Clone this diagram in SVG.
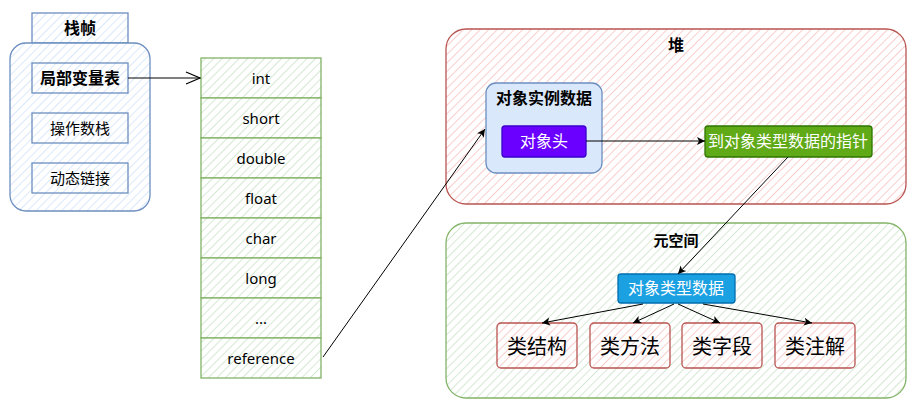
<svg xmlns="http://www.w3.org/2000/svg" width="920" height="412" viewBox="0 0 920 412">
<defs>
<pattern id="hb" width="6" height="6" patternUnits="userSpaceOnUse" patternTransform="rotate(45)"><rect width="6" height="6" fill="#ffffff"/><line x1="0" y1="0" x2="0" y2="6" stroke="#dae8fc" stroke-width="2"/></pattern>
<pattern id="hg" width="6" height="6" patternUnits="userSpaceOnUse" patternTransform="rotate(45)"><rect width="6" height="6" fill="#ffffff"/><line x1="0" y1="0" x2="0" y2="6" stroke="#d5e8d4" stroke-width="2"/></pattern>
<pattern id="hr" width="6" height="6" patternUnits="userSpaceOnUse" patternTransform="rotate(45)"><rect width="6" height="6" fill="#ffffff"/><line x1="0" y1="0" x2="0" y2="6" stroke="#f8cecc" stroke-width="2"/></pattern>
<marker id="ah" markerWidth="10" markerHeight="10" refX="9" refY="5" orient="auto" markerUnits="userSpaceOnUse"><path d="M1,1 L9,5 L1,9 L3,5 Z" fill="#000"/></marker>
<marker id="ao" markerWidth="16" markerHeight="14" refX="15" refY="7" orient="auto" markerUnits="userSpaceOnUse"><path d="M1,1 L15,7 L1,13" fill="none" stroke="#000" stroke-width="1.2"/></marker>
</defs>
<style>
text{font-family:"Noto Sans","Noto Sans CJK SC",sans-serif;text-anchor:middle;dominant-baseline:central;fill:#000}
.b{font-weight:bold}
.blue{fill:url(#hb);stroke:#6c8ebf;stroke-width:1.3}
.green{fill:url(#hg);stroke:#82b366;stroke-width:1.3}
.red{fill:url(#hr);stroke:#b85450;stroke-width:1.3}
.w{fill:#fff}
.c{fill:none;stroke:#000;stroke-width:1}
.t{font-size:15px}
</style>
<rect width="920" height="412" fill="#fff"/>

<g id="stack-frame">
<rect class="blue" x="32" y="13" width="96" height="30"/>
<text class="b" x="80" y="28" font-size="16">栈帧</text>
<rect class="blue" x="10" y="43" width="140" height="168" rx="16"/>
</g>
<g id="local-vars"><rect class="blue" x="32" y="63" width="96" height="30"/><text class="b" x="80" y="78" font-size="16">局部变量表</text></g>
<g id="operand-stack"><rect class="blue" x="32" y="113" width="96" height="30"/><text x="80" y="128" font-size="15">操作数栈</text></g>
<g id="dynamic-link"><rect class="blue" x="32" y="163" width="96" height="30"/><text x="80" y="178" font-size="15">动态链接</text></g>

<g id="table">
<rect class="green" x="201" y="58" width="120" height="40"/><text class="t" x="261" y="78">int</text>
<rect class="green" x="201" y="98" width="120" height="40"/><text class="t" x="261" y="118">short</text>
<rect class="green" x="201" y="138" width="120" height="40"/><text class="t" x="261" y="158">double</text>
<rect class="green" x="201" y="178" width="120" height="40"/><text class="t" x="261" y="198">float</text>
<rect class="green" x="201" y="218" width="120" height="40"/><text class="t" x="261" y="238">char</text>
<rect class="green" x="201" y="258" width="120" height="40"/><text class="t" x="261" y="278">long</text>
<rect class="green" x="201" y="298" width="120" height="40"/><text class="t" x="261" y="318">...</text>
<rect class="green" x="201" y="338" width="120" height="40"/><text class="t" x="261" y="358">reference</text>
</g>

<g id="heap"><rect class="red" x="446" y="29" width="460" height="175" rx="20"/><text class="b" x="676" y="45" font-size="16">堆</text></g>
<g id="object-instance"><rect x="486" y="83" width="116" height="90" rx="10" fill="#dae8fc" stroke="#6c8ebf" stroke-width="1.3"/><text class="b" x="544" y="98" font-size="16">对象实例数据</text></g>
<g id="object-header"><rect x="502" y="126" width="84" height="31" rx="3" fill="#6a00ff" stroke="#3700cc" stroke-width="1.3"/><text class="w" x="544" y="141" font-size="16">对象头</text></g>
<g id="type-pointer"><rect x="705" y="126" width="167" height="31" rx="3" fill="#60a917" stroke="#2d7600" stroke-width="1.3"/><text class="w" x="788" y="141" font-size="16">到对象类型数据的指针</text></g>

<g id="metaspace"><rect class="green" x="446" y="223" width="460" height="175" rx="20"/><text class="b" x="676" y="240" font-size="15">元空间</text></g>
<g id="type-data"><rect x="618" y="274" width="117" height="29" rx="3" fill="#1ba1e2" stroke="#006eaf" stroke-width="1.3"/><text class="w" x="676" y="288" font-size="16">对象类型数据</text></g>
<g id="class-struct"><rect class="red" x="497" y="323" width="80" height="45" rx="4"/><text x="537" y="346" font-size="20">类结构</text></g>
<g id="class-method"><rect class="red" x="590" y="323" width="80" height="45" rx="4"/><text x="630" y="346" font-size="20">类方法</text></g>
<g id="class-field"><rect class="red" x="682" y="323" width="80" height="45" rx="4"/><text x="722" y="346" font-size="20">类字段</text></g>
<g id="class-annot"><rect class="red" x="775" y="323" width="80" height="45" rx="4"/><text x="815" y="346" font-size="20">类注解</text></g>

<g id="connectors">
<line class="c" x1="128" y1="78" x2="200" y2="78" marker-end="url(#ao)"/>
<line class="c" x1="323" y1="357" x2="485" y2="129" marker-end="url(#ah)"/>
<line class="c" x1="586" y1="141" x2="705" y2="141" marker-end="url(#ah)"/>
<line class="c" x1="788" y1="157" x2="678" y2="274" marker-end="url(#ah)"/>
<line class="c" x1="643" y1="304" x2="542" y2="323" marker-end="url(#ah)"/>
<line class="c" x1="674" y1="304" x2="633" y2="323" marker-end="url(#ah)"/>
<line class="c" x1="678" y1="304" x2="720" y2="323" marker-end="url(#ah)"/>
<line class="c" x1="703" y1="304" x2="812" y2="323" marker-end="url(#ah)"/>
</g>
</svg>
